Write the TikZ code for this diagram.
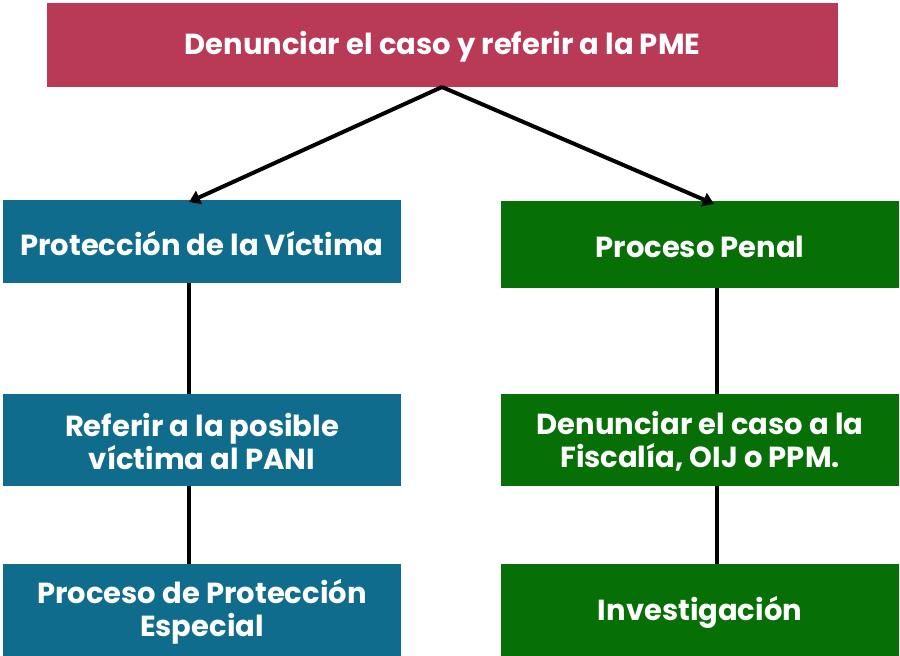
\documentclass[tikz,border=0pt]{standalone}
\usepackage{fontspec}
\setmainfont{Poppins}
\usetikzlibrary{arrows.meta}
\definecolor{topc}{HTML}{B83A57}
\definecolor{bluec}{HTML}{106C8C}
\definecolor{greenc}{HTML}{067006}
\begin{document}
\begin{tikzpicture}[x=1pt,y=-1pt,
  box/.style={inner sep=0pt, text=white, font=\fontsize{29}{33}\selectfont\bfseries, align=center},
  conn/.style={line width=4pt, black},
  arr/.style={conn, -{Triangle[length=11pt,width=14pt]}}]
\useasboundingbox (0,0) rectangle (900,656);
\fill[white] (0,0) rectangle (900,656);
\fill[topc] (47,3) rectangle (838,87);
\node[box] (top) at (442.5,47) {Denunciar el caso y referir a la PME};
\fill[bluec] (3,200) rectangle (401,283);
\node[box] (l1) at (202,244) {Protección de la Víctima};
\fill[greenc] (501,201) rectangle (899,288);
\node[box] (r1) at (700,246.5) {Proceso Penal};
\fill[bluec] (3,394) rectangle (401,486);
\node[box] (l2) at (202,441) {Referir a la posible\\víctima al PANI};
\fill[greenc] (501,394) rectangle (899,486);
\node[box] (r2) at (700,441) {Denunciar el caso a la\\Fiscalía, OIJ o PPM.};
\fill[bluec] (3,564) rectangle (401,656);
\node[box] (l3) at (202,612) {Proceso de Protección\\Especial};
\fill[greenc] (501,564) rectangle (899,656);
\node[box] (r3) at (700,612) {Investigación};
\coordinate (tb) at (442,87);
\coordinate (la) at (189,202);
\coordinate (ra) at (714,204);
\draw[arr] (tb) -- (la);
\draw[arr] (tb) -- (ra);
\draw[conn] (189,283) -- (189,394);
\draw[conn] (189,486) -- (189,564);
\draw[conn] (717,288) -- (717,394);
\draw[conn] (717,486) -- (717,564);
\end{tikzpicture}
\end{document}
